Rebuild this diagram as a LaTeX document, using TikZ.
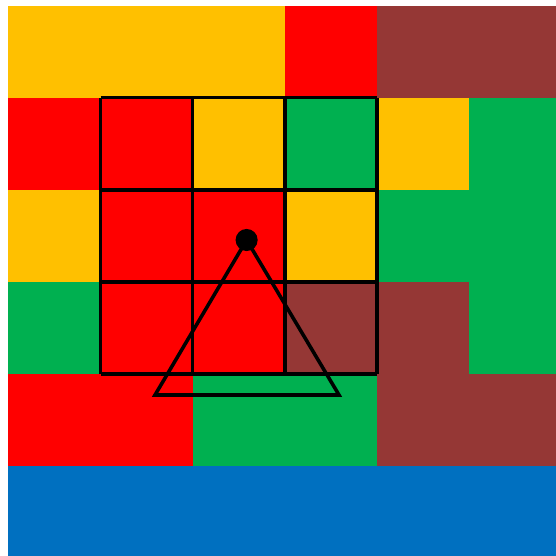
\documentclass[tikz,border=0pt]{standalone}
\usepackage{tikz}
\definecolor{cellyellow}{RGB}{255, 192, 0}
\definecolor{cellred}{RGB}{255, 0, 0}
\definecolor{cellgreen}{RGB}{0, 176, 80}
\definecolor{cellbrown}{RGB}{149, 55, 53}
\definecolor{cellblue}{RGB}{0, 112, 192}

\begin{document}
\begin{tikzpicture}[line width=1.1pt]
    \fill[white] (-0.092,0.023) rectangle (5.945,6.060);
    \useasboundingbox (-0.092,0.023) rectangle (5.945,6.060);
    \clip (-0.092,0.023) rectangle (5.945,6.060);

    % Cells, row by row from the top
    \foreach \row/\colours in {
        0/{cellyellow,cellyellow,cellyellow,cellred,cellbrown,cellbrown},
        1/{cellred,cellred,cellyellow,cellgreen,cellyellow,cellgreen},
        2/{cellyellow,cellred,cellred,cellyellow,cellgreen,cellgreen},
        3/{cellgreen,cellred,cellred,cellbrown,cellbrown,cellgreen},
        4/{cellred,cellred,cellgreen,cellgreen,cellbrown,cellbrown},
        5/{cellblue,cellblue,cellblue,cellblue,cellblue,cellblue}} {
        \foreach \c [count=\col from 0] in \colours
            \fill[\c] (\col,5-\row) rectangle ++(1,1);
    }

    % Window
    \draw (1,2) grid (4,5);

    % Robot
    \node (dot) [circle, fill=black, inner sep=0pt, minimum size=0.24cm] at (2.586,3.454) {};
    \coordinate (bl) at (1.591,1.771);
    \coordinate (br) at (3.589,1.771);
    \draw (dot.center) -- (bl) -- (br) -- cycle;
\end{tikzpicture}
\end{document}
